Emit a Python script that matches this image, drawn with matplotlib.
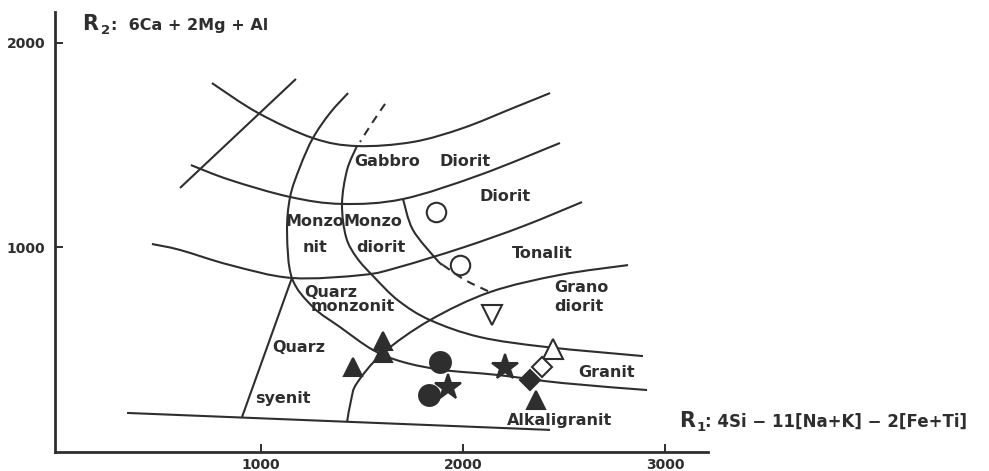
import matplotlib
matplotlib.use("Agg")
import matplotlib.pyplot as plt
from matplotlib.path import Path
from matplotlib.patches import PathPatch

W, H, DPI = 989, 471, 100
INK = "#2e2e2e"
plt.rcParams["font.family"] = ["DejaVu Sans"]
plt.rcParams["font.weight"] = "bold"

# ---- field boundaries in the R1-R2 plane ----
upper_x = [757, 985, 1257, 1475, 1752, 2000, 2248, 2431]
upper_y = [1804, 1658, 1535, 1496, 1516, 1584, 1682, 1755]

diag_x = [1173, 599]
diag_y = [1824, 1291]

mid_x = [653, 847, 1144, 1401, 1703, 2084, 2480]
mid_y = [1403, 1330, 1247, 1213, 1237, 1355, 1511]

ton_x = [460, 599, 847, 1153, 1505, 1683, 2000, 2300, 2589]
ton_y = [1017, 988, 914, 851, 866, 904, 1000, 1105, 1222]

gran_x = [1426, 1446, 1475, 1604, 1837, 2134, 2480, 2817]
gran_y = [147, 254, 337, 484, 645, 782, 866, 914]

monz_x = [1431, 1342, 1257, 1193, 1144, 1129, 1153, 1257, 1391, 1554, 1703, 1901, 2168, 2495, 2911]
monz_y = [1755, 1658, 1535, 1394, 1247, 1071, 851, 709, 611, 499, 440, 401, 377, 337, 303]

mdio_dash_x = [1614, 1550, 1490]
mdio_dash_y = [1702, 1609, 1516]
mdio_x = [1475, 1426, 1401, 1421, 1475, 1560, 1680, 1837, 2084, 2416, 2891]
mdio_y = [1496, 1379, 1213, 1051, 949, 855, 740, 645, 562, 513, 469]

dio_x = [1703, 1752, 1871, 1901]
dio_y = [1237, 1086, 939, 914]
dio_dash_x = [1901, 2010, 2134]
dio_dash_y = [914, 841, 782]

qsy_x = [1153, 906]
qsy_y = [851, 171]

base_x = [337, 2431]
base_y = [191, 108]

# ---- rock field names ----
fields = [
    ("Gabbro", 1624, 1418), ("Diorit", 2010, 1418),
    ("Diorit", 2208, 1247),
    ("Monzo", 1267, 1125), ("Monzo", 1554, 1125),
    ("nit", 1267, 998), ("diorit", 1594, 998),
    ("Tonalit", 2391, 973),
    ("Quarz", 1347, 782), ("monzonit", 1455, 709),
    ("Grano", 2584, 802), ("diorit", 2574, 709),
    ("Quarz", 1188, 509), ("syenit", 1109, 264),
    ("Granit", 2713, 391),
    ("Alkaligranit", 2480, 152),
]

# ---- samples ----
open_circle_x = [1866, 1985]
open_circle_y = [1174, 914]
open_tri_down_x = [2144]
open_tri_down_y = [670]
open_tri_up_x = [2446]
open_tri_up_y = [504]
open_diamond_x = [2391]
open_diamond_y = [416]
filled_diamond_x = [2332]
filled_diamond_y = [352]
filled_tri_x = [2361, 1455, 1604, 1604]
filled_tri_y = [254, 416, 543, 484]
filled_star_x = [2208, 1926]
filled_star_y = [416, 318]
filled_circle_x = [1886, 1832]
filled_circle_y = [440, 279]

xticks = [1000, 2000, 3000]
yticks = [1000, 2000]


def boundary_path(xs, ys):
    """Smooth Bezier path running through the given boundary nodes."""
    pts = list(zip(xs, ys))
    if len(pts) == 2:
        return Path(pts, [Path.MOVETO, Path.LINETO])
    verts = [pts[0]]
    codes = [Path.MOVETO]
    n = len(pts)
    for i in range(n - 1):
        p0 = pts[max(i - 1, 0)]
        p1 = pts[i]
        p2 = pts[i + 1]
        p3 = pts[min(i + 2, n - 1)]
        c1 = (p1[0] + (p2[0] - p0[0]) / 6.0, p1[1] + (p2[1] - p0[1]) / 6.0)
        c2 = (p2[0] - (p3[0] - p1[0]) / 6.0, p2[1] - (p3[1] - p1[1]) / 6.0)
        verts += [c1, c2, p2]
        codes += [Path.CURVE4] * 3
    return Path(verts, codes)


fig = plt.figure(figsize=(W / DPI, H / DPI), dpi=DPI)
ax = fig.add_axes([55 / W, 19 / H, 930 / W, 444 / H])
ax.set_xlim(-19.8, 4584)
ax.set_ylim(0, 2171)

for s in ("top", "right"):
    ax.spines[s].set_visible(False)
for s in ("left", "bottom"):
    ax.spines[s].set_linewidth(2.0)
    ax.spines[s].set_color(INK)
ax.spines["left"].set_bounds(0, 2152)
ax.spines["bottom"].set_bounds(-19.8, 3213)

ax.set_xticks(xticks)
ax.set_yticks(yticks)
ax.set_xticklabels([str(v) for v in xticks])
ax.set_yticklabels([str(v) for v in yticks])
ax.tick_params(direction="in", length=5.5, width=1.4, color=INK,
               labelsize=10, labelcolor=INK)
ax.tick_params(axis="x", pad=4)
ax.tick_params(axis="y", pad=7)
for lab in ax.get_xticklabels() + ax.get_yticklabels():
    lab.set_fontweight("bold")

lw = 1.5
solid = [(upper_x, upper_y), (diag_x, diag_y), (mid_x, mid_y), (ton_x, ton_y),
         (gran_x, gran_y), (monz_x, monz_y), (mdio_x, mdio_y), (dio_x, dio_y),
         (qsy_x, qsy_y), (base_x, base_y)]
for xs, ys in solid:
    ax.add_patch(PathPatch(boundary_path(xs, ys), fill=False, edgecolor=INK,
                           lw=lw, capstyle="butt", zorder=2))
for xs, ys in [(mdio_dash_x, mdio_dash_y), (dio_dash_x, dio_dash_y)]:
    ax.add_patch(PathPatch(boundary_path(xs, ys), fill=False, edgecolor=INK,
                           lw=lw, linestyle=(0, (4, 3)), zorder=2))

for txt, x, y in fields:
    ax.text(x, y, txt, ha="center", va="center", fontsize=11.5,
            fontweight="bold", color=INK, zorder=3)

mk = dict(linestyle="none", zorder=4, markeredgewidth=1.5, markeredgecolor=INK)
ax.plot(open_circle_x, open_circle_y, marker="o", ms=14, mfc="white", **mk)
ax.plot(open_tri_down_x, open_tri_down_y, marker="v", ms=14, mfc="white", **mk)
ax.plot(open_tri_up_x, open_tri_up_y, marker="^", ms=14, mfc="white", **mk)
ax.plot(open_diamond_x, open_diamond_y, marker="D", ms=10, mfc="white", **mk)
ax.plot(filled_diamond_x, filled_diamond_y, marker="D", ms=10, mfc=INK, **mk)
ax.plot(filled_tri_x, filled_tri_y, marker="^", ms=13, mfc=INK, **mk)
ax.plot(filled_star_x, filled_star_y, marker="*", ms=19, mfc=INK, **mk)
ax.plot(filled_circle_x, filled_circle_y, marker="o", ms=15, mfc=INK, **mk)


def ftext(px, py, s, size, **kw):
    fig.text(px / W, 1 - py / H, s, fontsize=size, fontweight="bold",
             color=INK, ha="left", va="baseline", **kw)


# axis titles
ftext(82, 30, "R", 15)
ftext(101, 34, "2", 9.5)
ftext(111, 30, ":  6Ca + 2Mg + Al", 11.5)

ftext(679, 427, "R", 15)
ftext(697, 431, "1", 9.5)
ftext(705, 427, ": 4Si \u2212 11[Na+K] \u2212 2[Fe+Ti]", 12)

fig.savefig("out.png", dpi=DPI, facecolor="white")
